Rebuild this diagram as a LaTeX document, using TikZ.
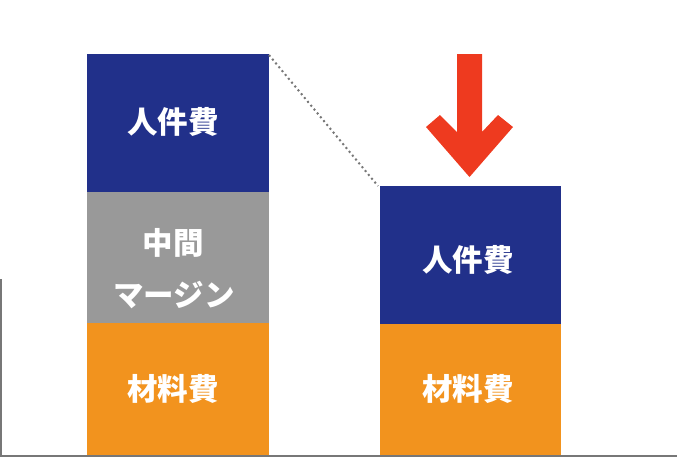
\documentclass[tikz,border=0pt]{standalone}
\usepackage{fontspec}
\newfontfamily\jp{Noto Sans CJK JP}
\definecolor{barblue}{HTML}{21308A}
\definecolor{bargray}{HTML}{999999}
\definecolor{barorange}{HTML}{F2931E}
\definecolor{arrowred}{HTML}{EE3A1F}
\definecolor{axisgray}{HTML}{777777}
\begin{document}
\begin{tikzpicture}[x=1pt,y=-1pt,
  lbl/.style={text=white, font=\jp\bfseries\fontsize{30.5}{36}\selectfont, inner sep=0pt},
  axis/.style={draw=axisgray, line width=2pt}]
\useasboundingbox (0,0) rectangle (677,459);
% bars
\fill[barblue] (87,54) rectangle (269,192);
\fill[bargray] (87,192) rectangle (269,323);
\fill[barorange] (87,323) rectangle (269,456);
\fill[barblue] (380,186) rectangle (561,324);
\fill[barorange] (380,324) rectangle (561,456);
\coordinate (lt) at (269,55);
\coordinate (rt) at (378,186);
% labels
\node[lbl] (l1) at (173,122) {人件費};
\node[lbl] (l2) at (173,243) {中間};
\node[lbl] (l3) at (174,295) {マージン};
\node[lbl] (l4) at (173,389) {材料費};
\node[lbl] (r1) at (468,260) {人件費};
\node[lbl] (r2) at (468,389) {材料費};
% dotted connector
\draw[axisgray, line width=2pt, dash pattern=on 2pt off 3pt] (lt) -- (rt);
% axes
\coordinate (ax0) at (1,279);
\coordinate (ax1) at (1,456);
\coordinate (ax2) at (677,456);
\draw[axis] (ax0) -- (ax1) -- (ax2);
% arrow
\fill[arrowred] (457,54) -- (482,54) -- (482,132) -- (498,115) -- (513,127) -- (469.5,177) -- (426,127) -- (440,115) -- (457,132) -- cycle;
\end{tikzpicture}
\end{document}
